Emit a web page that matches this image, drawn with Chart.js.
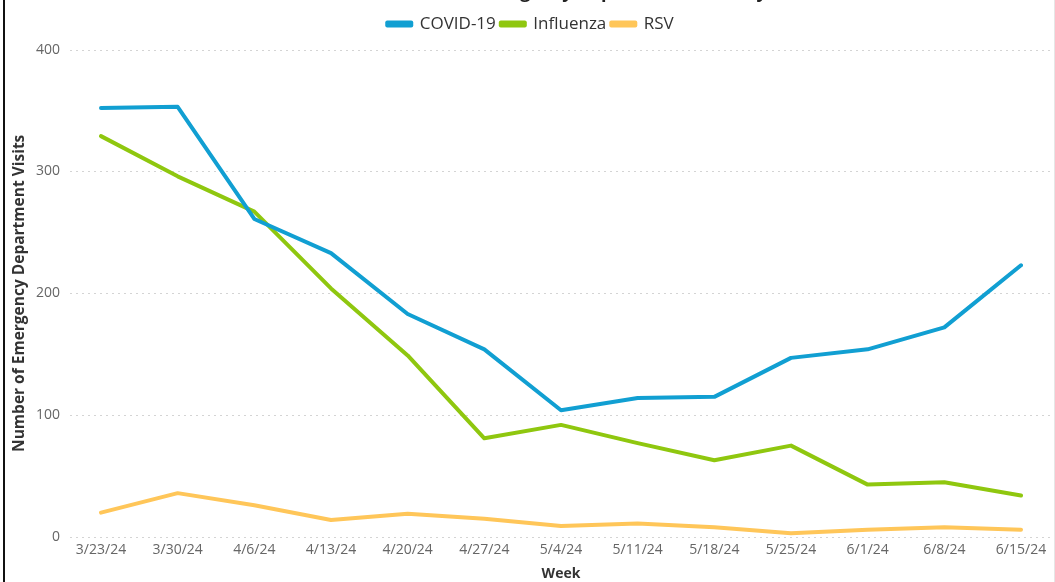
<!DOCTYPE html>
<html>
<head>
<meta charset="utf-8">
<script src="https://cdn.jsdelivr.net/npm/chart.js@4"></script>
<style>
  html, body { margin: 0; padding: 0; background: #fff; overflow: hidden; }
  body { width: 1055px; height: 582px; position: relative; }
  #wrap { position: absolute; left: 0; top: -30px; width: 1055px; height: 625px; }
  #frameLeft { position: absolute; left: 3px; top: 0; width: 2px; height: 582px; background: #111; }
  #frameRight { position: absolute; left: 1054px; top: 0; width: 1px; height: 582px; background: #e6e6e6; }
</style>
</head>
<body>
<div id="wrap"><canvas id="edVisitsChart"></canvas></div>
<div id="frameLeft"></div>
<div id="frameRight"></div>
<script>
// 資料
const weeks = ['3/23/24', '3/30/24', '4/6/24', '4/13/24', '4/20/24', '4/27/24', '5/4/24',
               '5/11/24', '5/18/24', '5/25/24', '6/1/24', '6/8/24', '6/15/24'];
const covid19 = [352, 353, 261, 233, 183, 154, 104, 114, 115, 147, 154, 172, 223];
const influenza = [329, 296, 267, 204, 149, 81, 92, 77, 63, 75, 43, 45, 34];
const rsv = [20, 36, 26, 14, 19, 15, 9, 11, 8, 3, 6, 8, 6];
const yTicks = [0, 100, 200, 300, 400];

// 虛線格線, 比圖區寬一點
const wideGrid = {
    id: 'wideGrid',
    beforeInit(chart) {
        // legend 下方多留一點空間
        const fit = chart.legend.fit;
        chart.legend.fit = function() {
            fit.bind(chart.legend)();
            this.height += 7;
        };
    },
    afterLayout(chart) {
        // legend 往右移一點
        chart.legend.left += 15;
        chart.legend.right += 15;
    },
    beforeDatasetsDraw(chart) {
        const ctx = chart.ctx;
        const y = chart.scales.y;
        const area = chart.chartArea;
        ctx.save();
        ctx.setLineDash([2, 4]);
        ctx.strokeStyle = '#d4d4d4';
        ctx.lineWidth = 1;
        y.ticks.forEach(function(t, i) {
            const py = Math.round(y.getPixelForTick(i)) + 0.5;
            ctx.beginPath();
            ctx.moveTo(area.left - 31, py);
            ctx.lineTo(area.right + 31, py);
            ctx.stroke();
        });
        ctx.restore();
    }
};

Chart.defaults.font.family = "'Open Sans', sans-serif";

const ctx = document.getElementById('edVisitsChart').getContext('2d');
const edVisitsChart = new Chart(ctx, {
    type: 'line',
    data: {
        labels: weeks,
        datasets: [{
            label: 'COVID-19',
            data: covid19,
            borderColor: '#119fd2',
            backgroundColor: '#119fd2'
        }, {
            label: 'Influenza',
            data: influenza,
            borderColor: '#8fc70f',
            backgroundColor: '#8fc70f'
        }, {
            label: 'RSV',
            data: rsv,
            borderColor: '#ffc659',
            backgroundColor: '#ffc659'
        }]
    },
    options: {
        responsive: true,
        maintainAspectRatio: false,
        animation: false,
        elements: {
            line: { borderWidth: 4, tension: 0, borderCapStyle: 'round', borderJoinStyle: 'round' },
            point: { radius: 0, hoverRadius: 0 }
        },
        layout: {
            padding: { left: 10, right: 34, top: 0, bottom: 0 }
        },
        scales: {
            x: {
                offset: false,
                afterFit: function(scale) {
                    scale.height = 58;
                },
                grid: { display: false, drawTicks: false },
                border: { display: false },
                ticks: { color: '#666', font: { size: 14 }, padding: 5, maxRotation: 0, autoSkip: false },
                title: {
                    display: true,
                    text: 'Week',
                    color: '#333',
                    font: { size: 14, weight: 'bold' },
                    padding: { top: 0, bottom: 13 }
                }
            },
            y: {
                min: yTicks[0],
                max: yTicks[yTicks.length - 1],
                afterFit: function(scale) {
                    scale.width = 91;
                },
                grid: { display: false, drawTicks: false },
                border: { display: false },
                ticks: { color: '#666', font: { size: 14 }, padding: 41, stepSize: yTicks[1] - yTicks[0] },
                title: {
                    display: true,
                    text: 'Number of Emergency Department Visits',
                    color: '#333',
                    font: { size: 15.5, weight: 'bold' },
                    padding: { top: 0, bottom: 4 }
                }
            }
        },
        plugins: {
            title: {
                display: true,
                text: 'COVID-19, Influenza, and RSV Emergency Department Visits by Week',
                color: '#222',
                font: { size: 18, weight: 'bold' },
                padding: { top: 12, bottom: 7 }
            },
            legend: {
                position: 'top',
                labels: {
                    color: '#333',
                    font: { size: 17 },
                    boxWidth: 24,
                    boxHeight: 3,
                    padding: 5
                }
            },
            tooltip: { enabled: false }
        }
    },
    plugins: [wideGrid]
});
</script>
</body>
</html>
